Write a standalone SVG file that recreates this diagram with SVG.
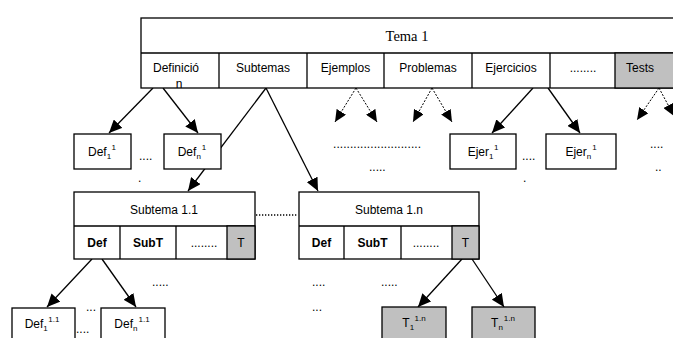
<svg xmlns="http://www.w3.org/2000/svg" width="673" height="338" viewBox="0 0 673 338">
  <style>
    .box { fill: #ffffff; stroke: #000000; stroke-width: 1.3; }
    .grey { fill: #c0c0c0; stroke: #000000; stroke-width: 1.3; }
    .lbl { font-family: "Liberation Sans", Arial, sans-serif; font-size: 12px; fill: #000000; text-anchor: middle; }
    .bold { font-weight: bold; }
    .serif { font-family: "Liberation Serif", "Times New Roman", serif; font-size: 14.5px; fill: #000000; text-anchor: middle; }
    .small { font-size: 8px; }
    .dots { font-family: "Liberation Sans", Arial, sans-serif; font-size: 12px; fill: #000000; }
    .solid { stroke: #000000; stroke-width: 1.3; fill: none; marker-end: url(#head); }
    .dashed { stroke: #000000; stroke-width: 1; stroke-dasharray: 2 1.5; fill: none; marker-end: url(#headSmall); }
    .dotline { stroke: #000000; stroke-width: 1.3; stroke-dasharray: 1.3 1.7; fill: none; }
  </style>
  <defs>
    <marker id="head" markerUnits="userSpaceOnUse" markerWidth="14" markerHeight="12" refX="13" refY="6" orient="auto">
      <path d="M0,0 L13,6 L0,12 z" fill="#000000"/>
    </marker>
    <marker id="headSmall" markerUnits="userSpaceOnUse" markerWidth="13" markerHeight="11" refX="12" refY="5.5" orient="auto">
      <path d="M0,0 L12,5.5 L0,11 z" fill="#000000"/>
    </marker>
  </defs>

  <rect width="673" height="338" fill="#ffffff"/>

  <!-- connectors: drawn first so boxes sit on top of them -->
  <g id="connectors">
    <!-- Definición -->
    <line class="solid" x1="153" y1="88" x2="109" y2="133"/>
    <line class="solid" x1="163" y1="88" x2="198" y2="133"/>
    <!-- Subtemas -->
    <line class="solid" x1="266" y1="88" x2="188" y2="191"/>
    <line class="solid" x1="266" y1="88" x2="318" y2="191"/>
    <!-- Ejemplos -->
    <line class="dashed" x1="356" y1="88" x2="335" y2="122"/>
    <line class="dashed" x1="356" y1="88" x2="377" y2="122"/>
    <!-- Problemas -->
    <line class="dashed" x1="432" y1="88" x2="413" y2="122"/>
    <line class="dashed" x1="432" y1="88" x2="452" y2="122"/>
    <!-- Ejercicios -->
    <line class="solid" x1="533" y1="88" x2="492" y2="133"/>
    <line class="solid" x1="548" y1="88" x2="580" y2="133"/>
    <!-- Tests -->
    <line class="dashed" x1="659" y1="88" x2="637" y2="120"/>
    <line class="dashed" x1="659" y1="88" x2="674" y2="116"/>
    <!-- Subtema 1.1 / Def -->
    <line class="solid" x1="92" y1="259" x2="47" y2="307"/>
    <line class="solid" x1="102" y1="259" x2="136" y2="307"/>
    <!-- Subtema 1.n / T -->
    <line class="solid" x1="462" y1="259" x2="418" y2="307"/>
    <line class="solid" x1="472" y1="259" x2="504" y2="307"/>
    <!-- dotted link between subtopics -->
    <line class="dotline" x1="256" y1="215" x2="298" y2="215"/>
  </g>

  <!-- Tema 1 header table -->
  <g id="tema1">
    <rect class="box" x="141" y="18" width="540" height="70"/>
    <line x1="141" y1="53" x2="681" y2="53" stroke="#000" stroke-width="1.3"/>
    <rect class="grey" x="615" y="53" width="66" height="35"/>
    <line x1="219" y1="53" x2="219" y2="88" stroke="#000" stroke-width="1.3"/>
    <line x1="307" y1="53" x2="307" y2="88" stroke="#000" stroke-width="1.3"/>
    <line x1="384" y1="53" x2="384" y2="88" stroke="#000" stroke-width="1.3"/>
    <line x1="472" y1="53" x2="472" y2="88" stroke="#000" stroke-width="1.3"/>
    <line x1="550" y1="53" x2="550" y2="88" stroke="#000" stroke-width="1.3"/>
    <text class="serif" x="407" y="41">Tema 1</text>
    <text class="lbl" x="176" y="72">Definició</text>
    <text class="lbl" x="179" y="88">n</text>
    <text class="lbl" x="263" y="72">Subtemas</text>
    <text class="lbl" x="345.5" y="72">Ejemplos</text>
    <text class="lbl" x="428" y="72">Problemas</text>
    <text class="lbl" x="511" y="72">Ejercicios</text>
    <text class="lbl" x="583" y="72">........</text>
    <text class="lbl" x="640" y="72">Tests</text>
  </g>

  <!-- second level -->
  <g id="def1">
    <rect class="box" x="74" y="134" width="57" height="35"/>
    <text class="lbl" x="102" y="156">Def<tspan class="small" dy="3">1</tspan><tspan class="small" dx="1" dy="-9">1</tspan></text>
  </g>
  <g id="defn">
    <rect class="box" x="164" y="134" width="57" height="35"/>
    <text class="lbl" x="192" y="156">Def<tspan class="small" dy="3">n</tspan><tspan class="small" dx="1" dy="-9">1</tspan></text>
  </g>
  <g id="ejer1">
    <rect class="box" x="450" y="134" width="66" height="35"/>
    <text class="lbl" x="483" y="156">Ejer<tspan class="small" dy="3">1</tspan><tspan class="small" dx="1" dy="-9">1</tspan></text>
  </g>
  <g id="ejern">
    <rect class="box" x="546" y="134" width="70" height="35"/>
    <text class="lbl" x="581" y="156">Ejer<tspan class="small" dy="3">n</tspan><tspan class="small" dx="1" dy="-9">1</tspan></text>
  </g>

  <!-- Subtema 1.1 -->
  <g id="subtema11">
    <rect class="box" x="74" y="192" width="181" height="67"/>
    <line x1="74" y1="226" x2="255" y2="226" stroke="#000" stroke-width="1.3"/>
    <line x1="120" y1="226" x2="120" y2="259" stroke="#000" stroke-width="1.3"/>
    <line x1="176" y1="226" x2="176" y2="259" stroke="#000" stroke-width="1.3"/>
    <rect class="grey" x="227" y="226" width="28" height="33"/>
    <text class="lbl" x="164" y="214">Subtema 1.1</text>
    <text class="lbl bold" x="97" y="247">Def</text>
    <text class="lbl bold" x="148" y="247">SubT</text>
    <text class="lbl" x="204" y="247">........</text>
    <text class="lbl" x="241" y="247">T</text>
  </g>

  <!-- Subtema 1.n -->
  <g id="subtema1n">
    <rect class="box" x="299" y="192" width="180" height="67"/>
    <line x1="299" y1="226" x2="479" y2="226" stroke="#000" stroke-width="1.3"/>
    <line x1="344" y1="226" x2="344" y2="259" stroke="#000" stroke-width="1.3"/>
    <line x1="401" y1="226" x2="401" y2="259" stroke="#000" stroke-width="1.3"/>
    <rect class="grey" x="452" y="226" width="27" height="33"/>
    <text class="lbl" x="389" y="214">Subtema 1.n</text>
    <text class="lbl bold" x="321.5" y="247">Def</text>
    <text class="lbl bold" x="372.5" y="247">SubT</text>
    <text class="lbl" x="426" y="247">........</text>
    <text class="lbl" x="465.5" y="247">T</text>
  </g>

  <!-- third level -->
  <g id="def11">
    <rect class="box" x="12" y="308" width="63" height="40"/>
    <text class="lbl" x="42" y="328">Def<tspan class="small" dy="3">1</tspan><tspan class="small" dx="1" dy="-9">1.1</tspan></text>
  </g>
  <g id="defn11">
    <rect class="box" x="101" y="308" width="64" height="40"/>
    <text class="lbl" x="132" y="328">Def<tspan class="small" dy="3">n</tspan><tspan class="small" dx="1" dy="-9">1.1</tspan></text>
  </g>
  <g id="t11n">
    <rect class="grey" x="382" y="307" width="64" height="40"/>
    <text class="lbl" x="414" y="327">T<tspan class="small" dy="3">1</tspan><tspan class="small" dx="1" dy="-9">1.n</tspan></text>
  </g>
  <g id="tn1n">
    <rect class="grey" x="472" y="307" width="63" height="40"/>
    <text class="lbl" x="503" y="327">T<tspan class="small" dy="3">n</tspan><tspan class="small" dx="1" dy="-9">1.n</tspan></text>
  </g>

  <!-- ellipsis marks -->
  <g id="ellipses">
    <text class="dots" x="139" y="160">....</text>
    <text class="dots" x="138" y="182">.</text>
    <text class="dots" x="333" y="148" textLength="88">..........................</text>
    <text class="dots" x="369" y="171">.....</text>
    <text class="dots" x="522" y="160">....</text>
    <text class="dots" x="523" y="182">.</text>
    <text class="dots" x="650" y="148">....</text>
    <text class="dots" x="655" y="171">..</text>
    <text class="dots" x="152" y="286">.....</text>
    <text class="dots" x="86" y="311">...</text>
    <text class="dots" x="76" y="333">....</text>
    <text class="dots" x="312" y="286">....</text>
    <text class="dots" x="312" y="311">...</text>
    <text class="dots" x="381" y="286">.....</text>
  </g>
</svg>
